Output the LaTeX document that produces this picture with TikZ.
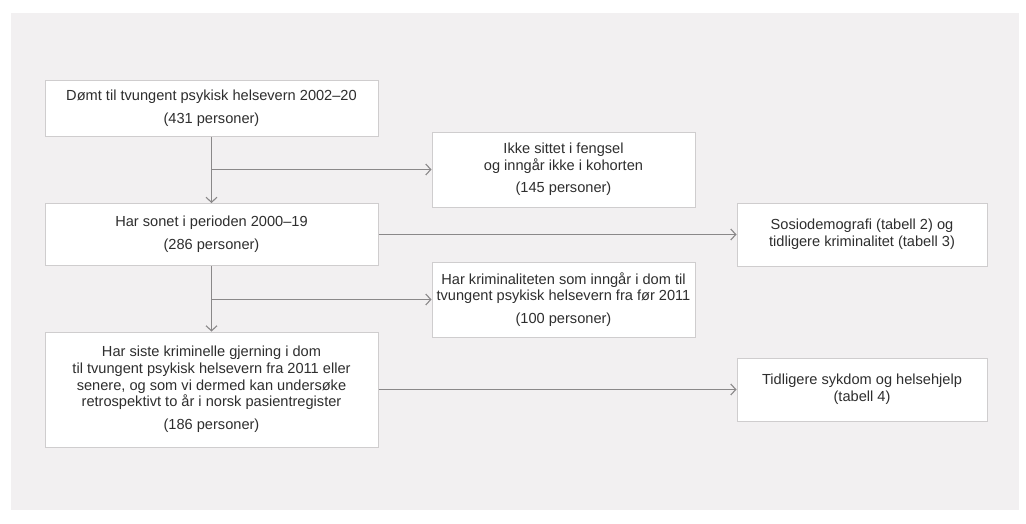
\documentclass[tikz,border=0pt]{standalone}
\usepackage{fontspec}
\setmainfont{Liberation Sans}
\usepackage{xcolor}
\usepackage{tikz}
\usetikzlibrary{positioning,arrows.meta}
\definecolor{grey100}{HTML}{F2F0F1}
\definecolor{grey300}{HTML}{CFCDCE}
\definecolor{grey500}{HTML}{8A8889}
\definecolor{grey800}{HTML}{2E2E2E}
\tikzset{
  every node/.style={font=\fontsize{14.6}{16.7}\selectfont, text=grey800},
  flowbox/.style={
    rectangle, draw=grey300, fill=white, line width=1pt,
    align=center, inner sep=0pt
  },
  arrow/.style={
    -{Straight Barb[length=5pt,width=11pt]},
    line width=1.1pt, draw=grey500
  },
}

\begin{document}
\begin{tikzpicture}[x=1pt,y=-1pt]
  \useasboundingbox (0,0) rectangle (1026,523);
  \fill[grey100] (11,13) rectangle (1019,510);
  \node[flowbox, minimum width=333pt, minimum height=56pt] (dom) at (211.5,108) {Dømt til tvungent psykisk helsevern 2002--20\\[6pt](431 personer)};
  \node[flowbox, minimum width=333pt, minimum height=62pt] (sonet) at (211.5,234.5) {Har sonet i perioden 2000--19\\[6pt](286 personer)};
  \node[flowbox, minimum width=333pt, minimum height=115pt] (siste) at (211.5,389.5) {Har siste kriminelle gjerning i dom\\til tvungent psykisk helsevern fra 2011 eller\\senere, og som vi dermed kan undersøke\\retrospektivt to år i norsk pasientregister\\[6pt](186 personer)};
  \node[flowbox, minimum width=263pt, minimum height=75pt] (ikke) at (563.5,169.5) {Ikke sittet i fengsel\\og inngår ikke i kohorten\\[6pt](145 personer)};
  \node[flowbox, minimum width=263pt, minimum height=75pt] (krim) at (563.5,299.5) {Har kriminaliteten som inngår i dom til\\tvungent psykisk helsevern fra før 2011\\[6pt](100 personer)};
  \node[flowbox, minimum width=250pt, minimum height=63pt] (sosio) at (862,234.5) {Sosiodemografi (tabell 2) og\\tidligere kriminalitet (tabell 3)};
  \node[flowbox, minimum width=250pt, minimum height=63pt] (sykdom) at (862,389.5) {Tidligere sykdom og helsehjelp\\(tabell 4)};
  \draw[arrow] (dom) -- (sonet);
  \draw[arrow] (dom.south |- ikke.west) -- (ikke.west);
  \draw[arrow] (sonet) -- (sosio);
  \draw[arrow] (sonet) -- (siste);
  \draw[arrow] (sonet.south |- krim.west) -- (krim.west);
  \draw[arrow] (siste) -- (sykdom);
\end{tikzpicture}
\end{document}
